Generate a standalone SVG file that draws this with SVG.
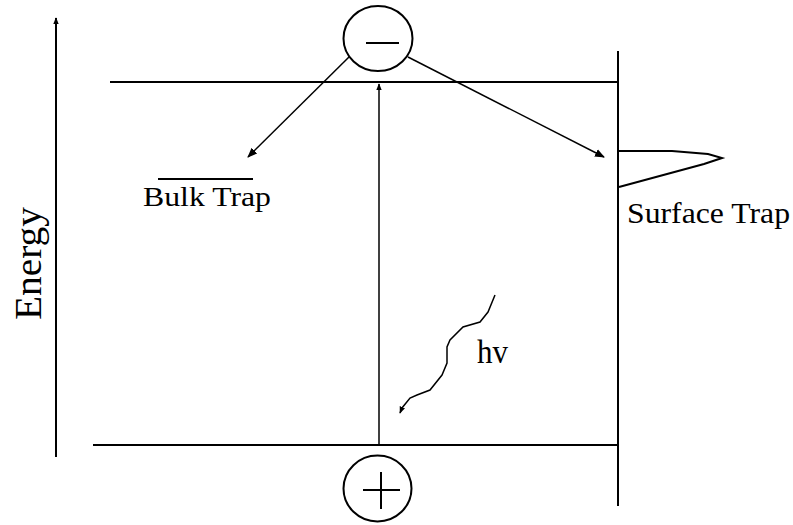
<svg xmlns="http://www.w3.org/2000/svg" width="793" height="525" viewBox="0 0 793 525">
<defs>
<style>
.ln{stroke:#000;stroke-width:2;fill:none}
.thin{stroke:#000;stroke-width:1.5;fill:none}
.txt{font-family:"Liberation Serif","Times New Roman",serif;fill:#000}
</style>
<marker id="ah" viewBox="0 0 10 10" refX="9" refY="5" markerWidth="10" markerHeight="10" markerUnits="userSpaceOnUse" orient="auto">
<path d="M0,1 L10,5 L0,9 z" fill="#000"/>
</marker>
<marker id="ahs" viewBox="0 0 10 10" refX="9" refY="5" markerWidth="7" markerHeight="7" markerUnits="userSpaceOnUse" orient="auto">
<path d="M0,1 L10,5 L0,9 z" fill="#000"/>
</marker>
</defs>
<rect width="793" height="525" fill="#fff"/>
<g id="energy-axis">
<line class="ln" x1="56" y1="457" x2="56" y2="18" marker-end="url(#ahs)"/>
<text class="txt" font-size="37" textLength="113" lengthAdjust="spacingAndGlyphs" transform="translate(41,320) rotate(-90)">Energy</text>
</g>
<g id="conduction-band">
<line class="ln" x1="110" y1="82" x2="618" y2="82"/>
</g>
<g id="valence-band">
<line class="ln" x1="93" y1="445" x2="618" y2="445"/>
</g>
<g id="surface">
<line class="ln" x1="618" y1="51" x2="618" y2="506"/>
<polyline class="ln" points="618,151 672,151 708,154 722,158 704,164 619,187"/>
<text class="txt" font-size="29" x="627" y="223" textLength="163" lengthAdjust="spacingAndGlyphs">Surface Trap</text>
</g>
<g id="electron">
<ellipse class="ln" cx="378" cy="38.5" rx="34.5" ry="32.5"/>
<line class="ln" x1="366" y1="43" x2="399" y2="43"/>
</g>
<g id="hole">
<ellipse class="ln" cx="377.5" cy="488.5" rx="34" ry="33"/>
<line class="ln" x1="363" y1="490" x2="400" y2="490"/>
<line class="ln" x1="381" y1="472" x2="381" y2="509"/>
</g>
<g id="bulk-trap">
<line class="ln" x1="158" y1="179" x2="253" y2="179"/>
<text class="txt" font-size="28" x="143" y="206" textLength="128" lengthAdjust="spacingAndGlyphs">Bulk Trap</text>
</g>
<g id="photon">
<polyline class="thin" points="495,295 488,312 480,322 463,327 450,340 447,347 447,363 442,375 430,390 417,395 410,398 402,408 400,413" marker-end="url(#ahs)"/>
<text class="txt" font-size="33" x="477" y="363" textLength="31" lengthAdjust="spacingAndGlyphs">hv</text>
</g>
<g id="connectors">
<line class="thin" x1="379" y1="445" x2="379" y2="84" marker-end="url(#ahs)"/>
<line class="thin" x1="349" y1="57" x2="248" y2="157" marker-end="url(#ah)"/>
<line class="thin" x1="408" y1="57" x2="604" y2="157" marker-end="url(#ah)"/>
</g>
</svg>
